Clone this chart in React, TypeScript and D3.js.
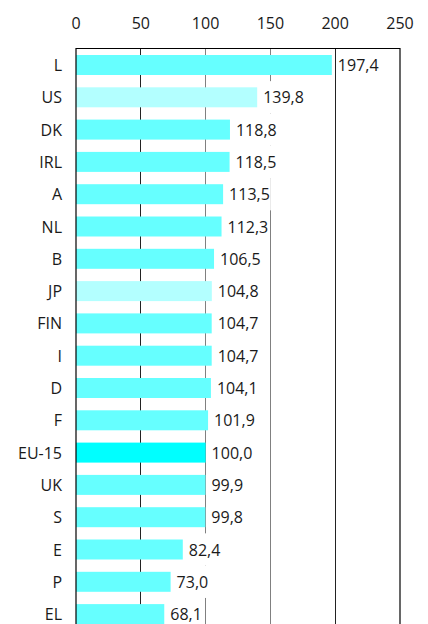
import React, { useEffect, useRef } from "react";
import * as d3 from "d3";

const categories = ["L", "US", "DK", "IRL", "A", "NL", "B", "JP", "FIN", "I", "D", "F", "EU-15", "UK", "S", "E", "P", "EL"];
const values = [197.4, 139.8, 118.8, 118.5, 113.5, 112.3, 106.5, 104.8, 104.7, 104.7, 104.1, 101.9, 100.0, 99.9, 99.8, 82.4, 73.0, 68.1];
const groups = ["member", "other", "member", "member", "member", "member", "member", "other", "member", "member", "member", "member", "average", "member", "member", "member", "member", "member"];
const tickValues = [0, 50, 100, 150, 200, 250];

const W = 428;
const H = 624;
const FONT = "'Open Sans', 'Noto Sans', sans-serif";

export default function App() {
  const ref = useRef<SVGSVGElement | null>(null);

  useEffect(() => {
    const svg = d3.select(ref.current);
    svg.selectAll("*").remove();

    const x = d3.scaleLinear().domain([0, 250]).range([76, 400]);
    const step = 32.3;
    const y0 = 48.85;
    const y = d3
      .scaleBand<string>()
      .domain(categories)
      .range([y0, y0 + step * categories.length])
      .paddingInner(0.381)
      .paddingOuter(0.1905);

    const color = (g: string) => (g === "average" ? "#00ffff" : g === "other" ? "#b3ffff" : "#66ffff");
    const gridColor = (t: number) => (t === 100 || t === 150 ? "#808080" : "#222222");
    const fmt = (v: number) => d3.format(".1f")(v).replace(".", ",");
    const data = categories.map((c, i) => ({ c, v: values[i], g: groups[i] }));
    const bottom = y0 + step * categories.length + 10;

    // gridlines
    svg
      .append("g")
      .selectAll("line")
      .data(tickValues.filter((t) => t > 0 && t < 250))
      .join("line")
      .attr("x1", (d) => Math.floor(x(d)) + 0.5)
      .attr("x2", (d) => Math.floor(x(d)) + 0.5)
      .attr("y1", 48)
      .attr("y2", bottom)
      .attr("stroke", (d) => gridColor(d))
      .attr("stroke-width", 1);

    // label backgrounds + texts
    const lblG = svg.append("g");
    const bgG = lblG.append("g");
    const txtG = lblG.append("g");
    const texts = txtG
      .selectAll("text")
      .data(data)
      .join("text")
      .attr("x", (d) => x(d.v) + 6)
      .attr("y", (d) => (y(d.c) as number) + y.bandwidth() / 2 + 6)
      .attr("font-family", FONT)
      .attr("font-size", 16)
      .attr("fill", "#1a1a1a")
      .text((d) => fmt(d.v));

    texts.each(function (d) {
      const bb = (this as SVGTextElement).getBBox();
      bgG
        .append("rect")
        .attr("x", bb.x - 1)
        .attr("y", (y(d.c) as number) - (step - y.bandwidth()) / 2)
        .attr("width", bb.width + 2)
        .attr("height", step)
        .attr("fill", "#ffffff");
    });

    // bars
    svg
      .append("g")
      .selectAll("rect")
      .data(data)
      .join("rect")
      .attr("x", x(0))
      .attr("y", (d) => y(d.c) as number)
      .attr("width", (d) => x(d.v) - x(0))
      .attr("height", y.bandwidth())
      .attr("fill", (d) => color(d.g));

    // raise label text above bars
    txtG.raise();

    // category labels
    svg
      .append("g")
      .selectAll("text")
      .data(data)
      .join("text")
      .attr("x", 62)
      .attr("y", (d) => (y(d.c) as number) + y.bandwidth() / 2 + 6)
      .attr("text-anchor", "end")
      .attr("font-family", FONT)
      .attr("font-size", 16)
      .attr("fill", "#1a1a1a")
      .text((d) => d.c);

    // top tick labels
    svg
      .append("g")
      .selectAll("text")
      .data(tickValues)
      .join("text")
      .attr("x", (d) => x(d))
      .attr("y", 29)
      .attr("text-anchor", "middle")
      .attr("font-family", FONT)
      .attr("font-size", 16)
      .attr("fill", "#1a1a1a")
      .text((d) => String(d));

    // frame
    const frame = svg.append("g").attr("stroke", "#000").attr("stroke-width", 1.2).attr("fill", "none");
    frame.append("line").attr("x1", x(0)).attr("x2", x(250)).attr("y1", 48.5).attr("y2", 48.5);
    frame.append("line").attr("x1", x(0)).attr("x2", x(0)).attr("y1", 48).attr("y2", bottom);
    frame.append("line").attr("x1", x(250)).attr("x2", x(250)).attr("y1", 48).attr("y2", bottom);
  }, []);

  return (
    <svg
      ref={ref}
      width={W}
      height={H}
      style={{ position: "fixed", left: 0, top: 0, background: "#fff" }}
    />
  );
}
